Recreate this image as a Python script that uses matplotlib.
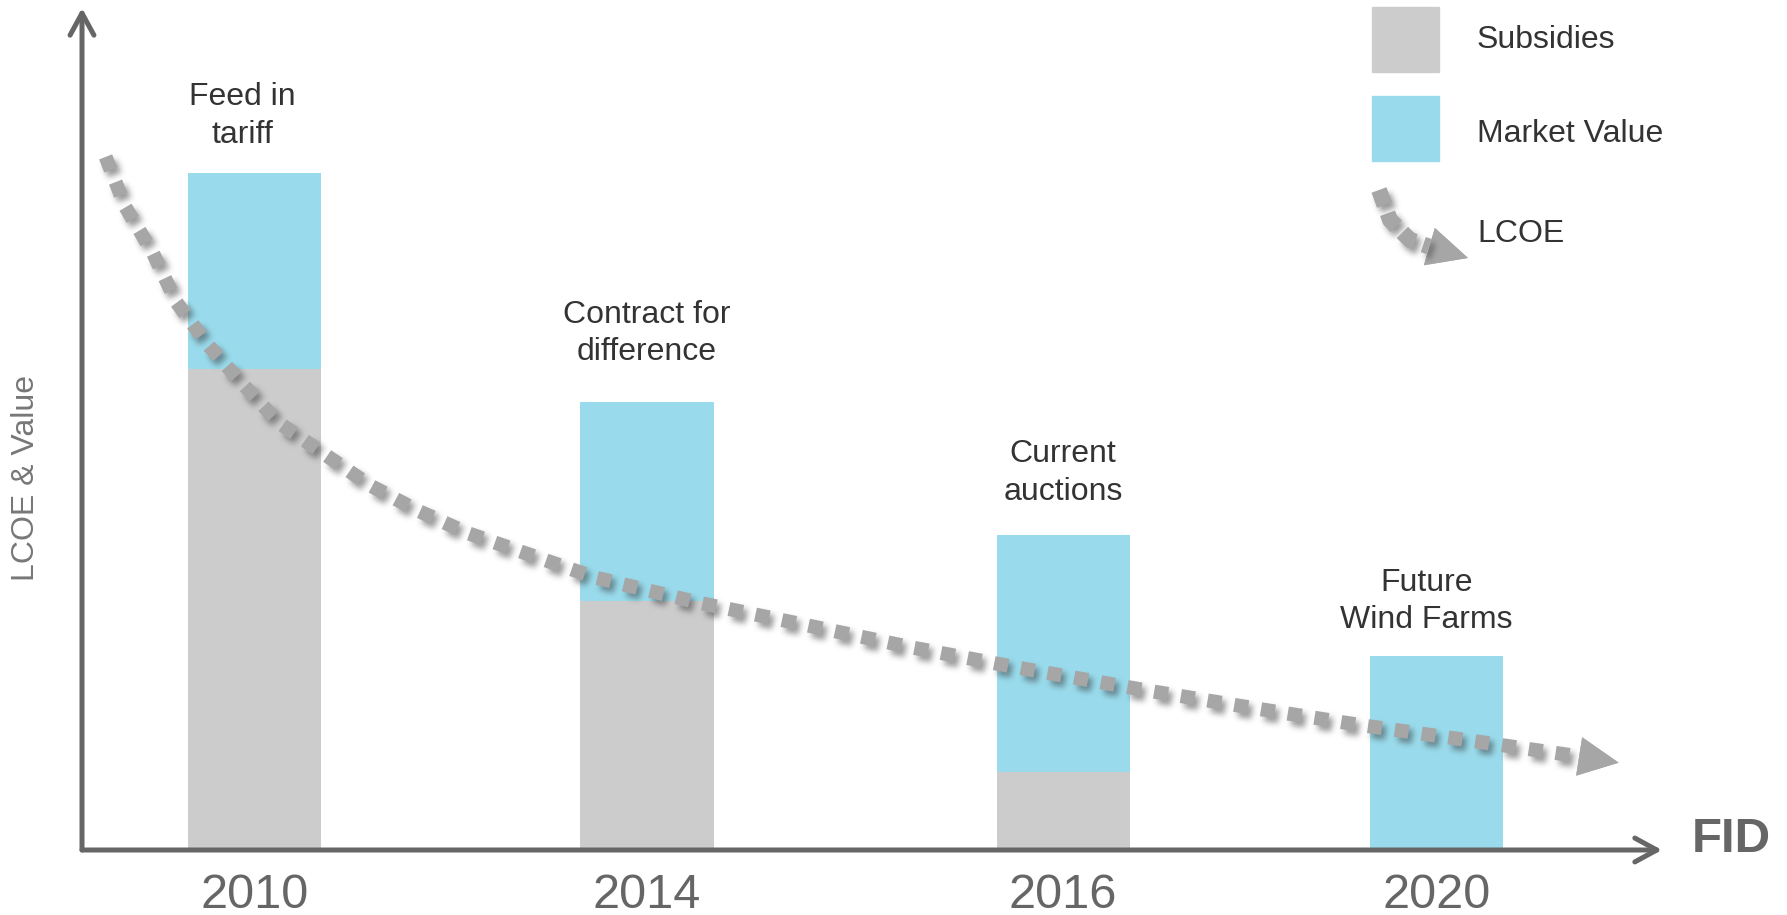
import numpy as np
import matplotlib
matplotlib.use('Agg')
import matplotlib.pyplot as plt
import matplotlib.transforms as mtransforms
from matplotlib.patches import FancyArrowPatch, Rectangle
from matplotlib.lines import Line2D

plt.rcParams['font.family'] = ['Liberation Sans', 'DejaVu Sans']

years = ['2010', '2014', '2016', '2020']
schemes = ['Feed in\ntariff', 'Contract for\ndifference', 'Current\nauctions', 'Future\nWind Farms']
subsidies = [71.0, 36.8, 11.5, 0.0]
market_value = [29.0, 29.4, 35.0, 28.7]

# LCOE trend (x in bar-slot units, y on the same scale as the bars)
lcoe_x = [0.06, 0.11, 0.18, 0.24, 0.32, 0.41, 0.50, 0.62, 0.73, 0.85, 0.98,
          1.30, 1.56, 1.84, 2.10, 2.37, 2.70, 2.97, 3.24, 3.52, 3.78]
lcoe_y = [102.4, 95.0, 88.2, 80.9, 74.6, 68.7, 63.1, 58.3, 53.9, 50.2, 46.8,
          40.3, 36.6, 33.2, 30.0, 27.0, 23.6, 21.0, 18.5, 16.2, 14.0]
lcoe_end = (3.90, 12.9)

GREY_BAR = '#cccccc'
BLUE_BAR = '#99dbec'
DASH = '#a6a6a6'
AXIS = '#666666'
TEXT = '#333333'

W, H = 1787, 915
fig = plt.figure(figsize=(W / 100, H / 100), dpi=100)
# pixel coordinates measured from the top-left corner of the figure
px = mtransforms.Affine2D().scale(1 / W, -1 / H).translate(0, 1) + fig.transFigure

ax = fig.add_axes([82 / W, 65 / H, 1580 / W, 842 / H])
ax.set_xlim(0, 4.01)
ax.set_ylim(0, 124.4)
ax.axis('off')

x_pos = [0.438, 1.434, 2.490, 3.437]
bar_w = 0.338


def drop_shadow(dx=4, dy=5, sigma=3.0, alpha=0.5):
    def _filter(im, dpi):
        r = int(3 * sigma)
        pad = r + max(abs(dx), abs(dy))
        a = np.pad(im[..., 3], pad)
        k = np.exp(-0.5 * (np.arange(-r, r + 1) / sigma) ** 2)
        k /= k.sum()
        for axis in (0, 1):
            out = np.zeros_like(a)
            for i, w in enumerate(k):
                out += w * np.roll(a, i - r, axis=axis)
            a = out
        a = np.roll(a, (dy, dx), axis=(0, 1))
        res = np.zeros(a.shape + (4,))
        res[..., :3] = 0.2
        res[..., 3] = np.clip(a * alpha, 0, 1)
        return res, -pad, -pad
    return _filter


# stacked bars
ax.bar(x_pos, subsidies, bar_w, color=GREY_BAR, zorder=2)
ax.bar(x_pos, market_value, bar_w, bottom=subsidies, color=BLUE_BAR, zorder=2)

totals = [s + m for s, m in zip(subsidies, market_value)]
label_dx = [-8.6, 0, 0, -7.2]
label_dy = [17.0, 24.9, 20.6, 14.8]
for x, top, txt, ddx, ddy in zip(x_pos, totals, schemes, label_dx, label_dy):
    ax.annotate(txt, xy=(x, top), xytext=(ddx, ddy), textcoords='offset points',
                ha='center', va='bottom', fontsize=23, color=TEXT, linespacing=1.33)

for x, yr in zip(x_pos, years):
    ax.annotate(yr, xy=(x, 0), xytext=(0, -41.8), textcoords='offset points',
                ha='center', va='baseline', fontsize=35, color=AXIS)

# LCOE dashed arrow with a soft shadow
line_kw = dict(color=DASH, lw=10.1, dashes=(1.0, 0.93), solid_capstyle='butt')
head_kw = dict(arrowstyle='-|>,head_length=28.8,head_width=14', mutation_scale=1,
               color=DASH, lw=0, shrinkA=0, shrinkB=0)
for shadow in (True, False):
    ln, = ax.plot(lcoe_x, lcoe_y, zorder=4 if shadow else 5, **line_kw)
    head = FancyArrowPatch((lcoe_x[-1], lcoe_y[-1]), lcoe_end,
                           zorder=4 if shadow else 5, **head_kw)
    ax.add_patch(head)
    if shadow:
        ln.set_agg_filter(drop_shadow())
        head.set_agg_filter(drop_shadow())

# axes drawn as arrows
axis_kw = dict(arrowstyle='->,head_length=15.8,head_width=8.6', mutation_scale=1,
               lw=3.6, color=AXIS, capstyle='round', joinstyle='round',
               transform=ax.transAxes, clip_on=False, shrinkA=0, shrinkB=0, zorder=6)
ax.add_patch(FancyArrowPatch((0, 0), (0, 1), **axis_kw))
ax.add_patch(FancyArrowPatch((0, 0), (1, 0), **axis_kw))

fig.text(26, 478, 'LCOE & Value', transform=px, rotation=90, ha='center',
         va='center', fontsize=23, color='#777777')
fig.text(1731, 839, 'FID', transform=px, ha='center', va='center',
         fontsize=35.5, fontweight='bold', color=AXIS)

# legend
fig.add_artist(Rectangle((1372, 7), 67, 65, transform=px, color=GREY_BAR))
fig.add_artist(Rectangle((1372, 96), 67, 65, transform=px, color=BLUE_BAR))
for y, txt in zip([40, 134, 234], ['Subsidies', 'Market Value', 'LCOE']):
    fig.text(1477, y, txt, transform=px, ha='left', va='center',
             fontsize=23, color=TEXT)

icon_x = [1379, 1390, 1410, 1429]
icon_y = [190, 220, 240, 246.5]
for shadow in (True, False):
    ln = Line2D(icon_x, icon_y, transform=px, color=DASH, lw=11.5,
                dashes=(1.0, 0.55), solid_capstyle='butt')
    head = FancyArrowPatch((icon_x[-1], icon_y[-1]), (1468, 258), transform=px,
                           arrowstyle='-|>,head_length=29,head_width=14',
                           mutation_scale=1, color=DASH, lw=0, shrinkA=0, shrinkB=0)
    if shadow:
        ln.set_agg_filter(drop_shadow())
        head.set_agg_filter(drop_shadow())
    fig.add_artist(ln)
    fig.add_artist(head)

fig.savefig('out.png', dpi=100)
